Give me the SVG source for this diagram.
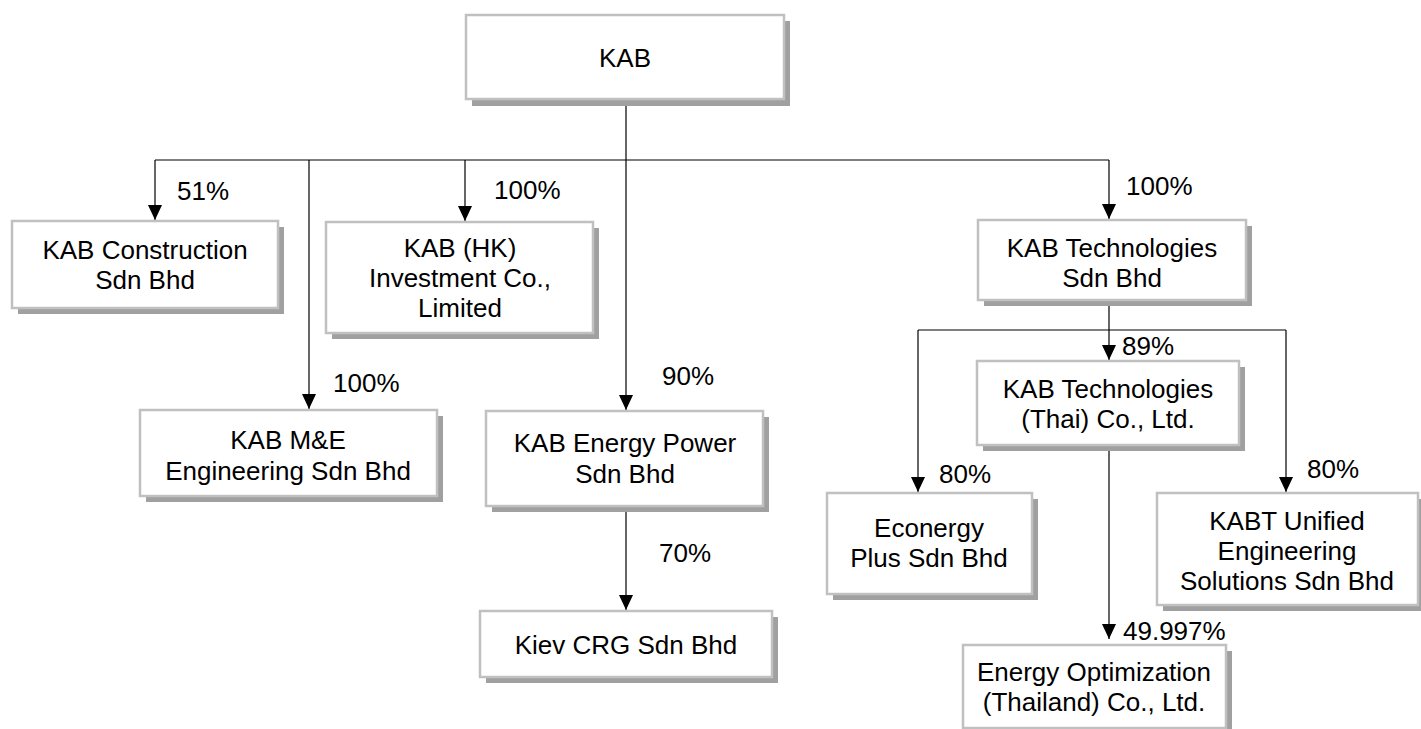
<svg xmlns="http://www.w3.org/2000/svg" width="1421" height="729" viewBox="0 0 1421 729">
<style>
.sh{fill:#a0a0a0}
.bx{fill:#fff;stroke:#c0c0c0;stroke-width:2.5}
.t{font-family:"Liberation Sans",Arial,sans-serif;font-size:26px;fill:#000;text-anchor:middle}
.l{font-family:"Liberation Sans",Arial,sans-serif;font-size:26px;fill:#000}
.c{fill:none;stroke:#000;stroke-width:1.2}
</style>
<defs>
<marker id="ah" markerUnits="userSpaceOnUse" markerWidth="15" markerHeight="14" refX="15" refY="7" orient="auto" viewBox="0 0 15 14">
<path d="M0,0 L15,7 L0,14 Z" fill="#000"/>
</marker>
</defs>
<rect width="1421" height="729" fill="#fff"/>
<g id="connectors">
<path class="c" d="M626,99 V160"/>
<path class="c" d="M155,160 H1109"/>
<path class="c" d="M155,160 V220" marker-end="url(#ah)"/>
<path class="c" d="M465,160 V221" marker-end="url(#ah)"/>
<path class="c" d="M309,160 V409" marker-end="url(#ah)"/>
<path class="c" d="M626,160 V410" marker-end="url(#ah)"/>
<path class="c" d="M1109,160 V219" marker-end="url(#ah)"/>
<path class="c" d="M626,506 V610" marker-end="url(#ah)"/>
<path class="c" d="M1109,300 V360" marker-end="url(#ah)"/>
<path class="c" d="M918,330 H1286"/>
<path class="c" d="M918,330 V492" marker-end="url(#ah)"/>
<path class="c" d="M1286,330 V492" marker-end="url(#ah)"/>
<path class="c" d="M1109,445 V639" marker-end="url(#ah)"/>
<text class="l" x="177" y="200">51%</text>
<text class="l" x="494" y="199">100%</text>
<text class="l" x="333" y="392">100%</text>
<text class="l" x="662" y="385">90%</text>
<text class="l" x="659" y="562">70%</text>
<text class="l" x="1126" y="195">100%</text>
<text class="l" x="1122" y="355">89%</text>
<text class="l" x="939" y="483">80%</text>
<text class="l" x="1307" y="478">80%</text>
<text class="l" x="1123" y="640">49.997%</text>
</g>
<g id="kab">
<rect class="sh" x="472" y="21" width="318" height="85"/>
<rect class="bx" x="466" y="15" width="318" height="84"/>
<text class="t" x="625" y="67">KAB</text>
</g>
<g id="construction">
<rect class="sh" x="18" y="227" width="266" height="87"/>
<rect class="bx" x="12" y="221" width="266" height="87"/>
<text class="t" x="145" y="259">KAB Construction</text>
<text class="t" x="145" y="289">Sdn Bhd</text>
</g>
<g id="hk">
<rect class="sh" x="332" y="228" width="267" height="111"/>
<rect class="bx" x="326" y="222" width="267" height="111"/>
<text class="t" x="460" y="257">KAB (HK)</text>
<text class="t" x="460" y="287">Investment Co.,</text>
<text class="t" x="460" y="317">Limited</text>
</g>
<g id="me">
<rect class="sh" x="146" y="416" width="297" height="86"/>
<rect class="bx" x="140" y="410" width="297" height="86"/>
<text class="t" x="288" y="449">KAB M&amp;E</text>
<text class="t" x="288" y="480">Engineering Sdn Bhd</text>
</g>
<g id="energypower">
<rect class="sh" x="492" y="417" width="277" height="95"/>
<rect class="bx" x="486" y="411" width="277" height="95"/>
<text class="t" x="625" y="452">KAB Energy Power</text>
<text class="t" x="625" y="483">Sdn Bhd</text>
</g>
<g id="kiev">
<rect class="sh" x="486" y="617" width="292" height="66"/>
<rect class="bx" x="480" y="611" width="292" height="66"/>
<text class="t" x="626" y="654">Kiev CRG Sdn Bhd</text>
</g>
<g id="tech">
<rect class="sh" x="984" y="226" width="268" height="80"/>
<rect class="bx" x="978" y="220" width="268" height="80"/>
<text class="t" x="1112" y="257">KAB Technologies</text>
<text class="t" x="1112" y="287">Sdn Bhd</text>
</g>
<g id="thai">
<rect class="sh" x="983" y="367" width="262" height="84"/>
<rect class="bx" x="977" y="361" width="262" height="84"/>
<text class="t" x="1108" y="398">KAB Technologies</text>
<text class="t" x="1108" y="428">(Thai) Co., Ltd.</text>
</g>
<g id="econergy">
<rect class="sh" x="833" y="499" width="205" height="101"/>
<rect class="bx" x="827" y="493" width="205" height="101"/>
<text class="t" x="929" y="537">Econergy</text>
<text class="t" x="929" y="567">Plus Sdn Bhd</text>
</g>
<g id="kabt">
<rect class="sh" x="1163" y="499" width="261" height="112"/>
<rect class="bx" x="1157" y="493" width="261" height="112"/>
<text class="t" x="1287" y="530">KABT Unified</text>
<text class="t" x="1287" y="560">Engineering</text>
<text class="t" x="1287" y="590">Solutions Sdn Bhd</text>
</g>
<g id="eo">
<rect class="sh" x="969" y="651" width="263" height="85"/>
<rect class="bx" x="963" y="645" width="263" height="83"/>
<text class="t" x="1094" y="681">Energy Optimization</text>
<text class="t" x="1094" y="711">(Thailand) Co., Ltd.</text>
</g>
</svg>
